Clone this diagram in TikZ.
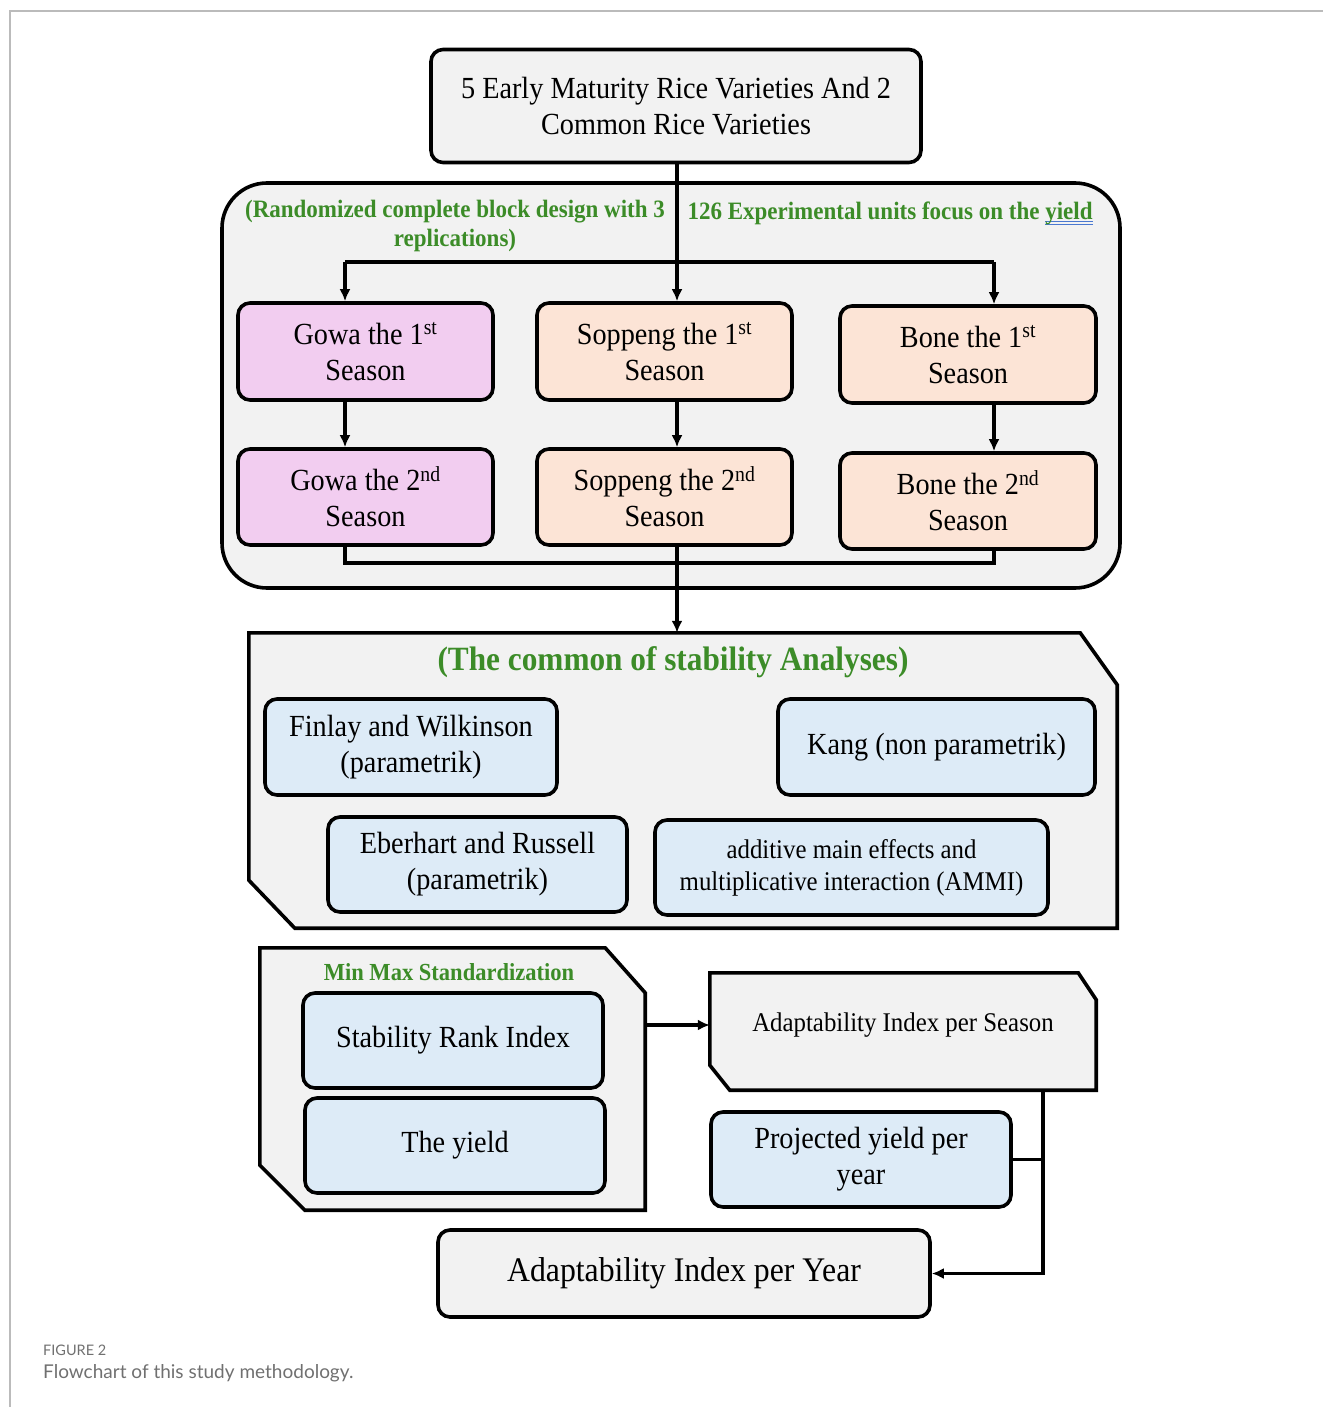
\documentclass[tikz,border=0pt]{standalone}
\usepackage{fontspec}
\setmainfont{Liberation Serif}[FakeStretch=0.92]
\newfontfamily\capfont{Lato}
\usetikzlibrary{arrows.meta,calc}

\definecolor{panelgray}{HTML}{F2F2F2}
\definecolor{gowapink}{HTML}{F2CDF0}
\definecolor{peach}{HTML}{FCE4D6}
\definecolor{paleblue}{HTML}{DDEBF7}
\definecolor{notegreen}{HTML}{3C8C28}
\definecolor{spellblue}{HTML}{4A78D0}
\definecolor{framegray}{HTML}{BBBBBB}
\definecolor{capgray}{HTML}{707070}

\newcommand\spellline[1]{\setbox0\hbox{#1}\rlap{\color{spellblue}\rule[-3pt]{\wd0}{0.9pt}\hspace{-\wd0}\rule[-5.5pt]{\wd0}{0.9pt}}\box0}

\tikzset{
  box/.style={draw, line width=3.6pt, rounded corners=12pt, align=center,
    font=\fontsize{30.7}{36}\selectfont, inner sep=0pt},
  gowa/.style={box, fill=gowapink},
  region/.style={box, fill=peach},
  method/.style={box, fill=paleblue},
  grey/.style={box, fill=panelgray},
  panel/.style={draw, line width=3.6pt, fill=panelgray, line join=miter},
  note/.style={text=notegreen, font=\bfseries\fontsize{25}{29}\selectfont, align=center},
  line/.style={line width=3.3pt},
  arrow/.style={line width=3.3pt, -{Latex[length=12pt,width=11pt]}}
}

\begin{document}
\begin{tikzpicture}[x=1pt, y=-1pt]
  \useasboundingbox (0,0) rectangle (1323,1407);
  % frame
  \draw[framegray, line width=1.5pt] (10,1407) -- (10,11) -- (1323,11);

  % varieties
  \node[grey, minimum width=490pt, minimum height=113pt] (top) at (676,106)
    {5 Early Maturity Rice Varieties And 2\\Common Rice Varieties};

  % field design
  \node[panel, rounded corners=45pt, minimum width=898pt, minimum height=405pt] (field) at (671,385.5) {};
  \node[note] (rcbd) at (455,226) {(Randomized complete block design with 3\\replications)};
  \node[note, anchor=west] (units) at (684,213) {126 Experimental units focus on the \spellline{yield}};

  % seasons
  \node[gowa, minimum width=255pt, minimum height=97pt] (gowa1) at (365.5,351.5) {Gowa the 1\textsuperscript{st}\\Season};
  \node[region, minimum width=255pt, minimum height=97pt] (sop1) at (664.5,351.5) {Soppeng the 1\textsuperscript{st}\\Season};
  \node[region, minimum width=256pt, minimum height=97pt] (bone1) at (968,354.5) {Bone the 1\textsuperscript{st}\\Season};
  \node[gowa, minimum width=255pt, minimum height=96pt] (gowa2) at (365.5,497) {Gowa the 2\textsuperscript{nd}\\Season};
  \node[region, minimum width=255pt, minimum height=96pt] (sop2) at (664.5,497) {Soppeng the 2\textsuperscript{nd}\\Season};
  \node[region, minimum width=256pt, minimum height=96pt] (bone2) at (968,501) {Bone the 2\textsuperscript{nd}\\Season};

  \coordinate (hub) at (677,262);
  \coordinate (ga) at (345,262);
  \coordinate (ba) at (994,262);
  \coordinate (join) at (677,563);

  \draw[arrow] (top.south -| hub) -- (sop1.north -| hub);
  \draw[line] (ga) -- (ba);
  \draw[arrow] (ga) -- (gowa1.north -| ga);
  \draw[arrow] (ba) -- (bone1.north -| ba);
  \draw[arrow] (gowa1.south -| ga) -- (gowa2.north -| ga);
  \draw[arrow] (sop1.south -| hub) -- (sop2.north -| hub);
  \draw[arrow] (bone1.south -| ba) -- (bone2.north -| ba);
  \draw[line] (gowa2.south -| ga) |- (join) -| (bone2.south -| ba);

  % stability analyses
  \node[minimum width=868pt, minimum height=295pt, inner sep=0pt] (anl) at (683,780.5) {};
  \draw[panel] (anl.north west) -- ([xshift=-37pt]anl.north east) -- ([yshift=-52pt]anl.north east)
    -- (anl.south east) -- ([xshift=46pt]anl.south west) -- ([yshift=48pt]anl.south west) -- cycle;
  \draw[arrow] (sop2.south -| hub) -- (anl.north -| hub);
  \node[note, font=\bfseries\fontsize{34}{38}\selectfont] (anltitle) at (673,662) {(The common of stability Analyses)};
  \node[method, minimum width=292pt, minimum height=96pt] (finlay) at (411,747) {Finlay and Wilkinson\\(parametrik)};
  \node[method, minimum width=317pt, minimum height=96pt] (kang) at (936.5,747) {Kang (non parametrik)};
  \node[method, minimum width=299pt, minimum height=95pt] (eber) at (477.5,864.5) {Eberhart and Russell\\(parametrik)};
  \node[method, minimum width=393pt, minimum height=95pt, font=\fontsize{27}{32}\selectfont] (ammi) at (851.5,867.5)
    {additive main effects and\\multiplicative interaction (AMMI)};

  % min max standardization
  \node[minimum width=385pt, minimum height=262pt, inner sep=0pt] (mm) at (452.5,1079) {};
  \draw[panel] (mm.north west) -- ([xshift=-40pt]mm.north east) -- ([yshift=-45pt]mm.north east)
    -- (mm.south east) -- ([xshift=45pt]mm.south west) -- ([yshift=45pt]mm.south west) -- cycle;
  \node[note, font=\bfseries\fontsize{24.5}{28}\selectfont] (mmtitle) at (449,972) {Min Max Standardization};
  \node[method, minimum width=300pt, minimum height=95pt] (sri) at (453,1040.5) {Stability Rank Index};
  \node[method, minimum width=300pt, minimum height=95pt] (yld) at (455,1145.5) {The yield};

  % adaptability
  \node[minimum width=386pt, minimum height=117pt, inner sep=0pt] (sea) at (903,1031.5) {};
  \draw[panel] (sea.north west) -- ([xshift=-18pt]sea.north east) -- ([yshift=-27pt]sea.north east)
    -- (sea.south east) -- ([xshift=20pt]sea.south west) -- ([yshift=25pt]sea.south west) -- cycle;
  \node[font=\fontsize{27}{32}\selectfont] (seatext) at (903,1025) {Adaptability Index per Season};
  \node[method, minimum width=300pt, minimum height=95pt] (proj) at (861,1159.5) {Projected yield per\\year};
  \node[grey, minimum width=492pt, minimum height=87pt, font=\fontsize{34.5}{40}\selectfont] (year) at (684,1273.5)
    {Adaptability Index per Year};

  \coordinate (rj) at (1043,1159.5);
  \draw[arrow] (mm.east |- 0,1025) -- (sea.west |- 0,1025);
  \draw[arrow] (sea.south -| rj) -- (rj |- year.east) -- (year.east);
  \draw[line] (proj.east) -- (rj);

  % caption
  \node[anchor=west, inner sep=0pt, text=capgray, font=\capfont\fontsize{14.5}{16}\selectfont] (fig) at (43,1350) {FIGURE 2};
  \node[anchor=west, inner sep=0pt, text=capgray, font=\capfont\fontsize{19}{22}\selectfont] (cap) at (43,1373) {Flowchart of this study methodology.};
\end{tikzpicture}
\end{document}
